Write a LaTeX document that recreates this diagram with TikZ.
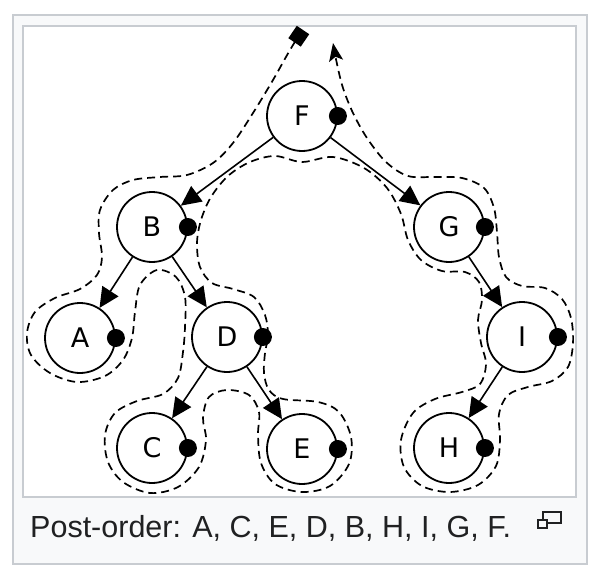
\documentclass[tikz,border=0pt]{standalone}
\usepackage{fontspec}
\usepackage{tikz}
\usetikzlibrary{arrows.meta}
\setmainfont{Liberation Sans}
\newfontfamily\nodefont{DejaVu Sans}
\definecolor{frameline}{HTML}{C8CCD1}
\definecolor{framefill}{HTML}{F8F9FA}
\definecolor{captext}{HTML}{202122}

\begin{document}
\begin{tikzpicture}[x=1pt, y=-1pt,
    vertex/.style={draw=black, circle, line width=1.8pt, minimum size=70pt, inner sep=0pt,
      font=\nodefont\fontsize{27}{30}\selectfont},
    visit/.style={fill=black},
    tour/.style={line width=1.7pt, dash pattern=on 8pt off 5pt,
      {Square[length=15pt,width=15pt]}-{Stealth[length=18pt,width=14pt,inset=4pt]}},
    >={Triangle[length=20pt,width=19pt]}]
  \useasboundingbox (0,0) rectangle (600,578);
  % thumbnail frame
  \draw[frameline, fill=framefill, line width=2pt] (13,15) rectangle (587,564);
  \draw[frameline, fill=white, line width=2pt] (23,26) rectangle (576,497);

    \node[vertex] (F) at (302,116) {F};
    \node[vertex] (B) at (152,227) {B};
    \node[vertex] (G) at (449,227) {G};
    \node[vertex] (A) at (80,338) {A};
    \node[vertex] (D) at (227,337) {D};
    \node[vertex] (I) at (522,337) {I};
    \node[vertex] (C) at (152,448) {C};
    \node[vertex] (E) at (302,449) {E};
    \node[vertex] (H) at (449,448) {H};
    \path [->, line width=1.6pt] (F) edge (B);
    \path [->, line width=1.6pt] (F) edge (G);
    \path [->, line width=1.6pt] (B) edge (A);
    \path [->, line width=1.6pt] (B) edge (D);
    \path [->, line width=1.6pt] (D) edge (C);
    \path [->, line width=1.6pt] (D) edge (E);
    \path [->, line width=1.6pt] (G) edge (I);
    \path [->, line width=1.6pt] (I) edge (H);
    \foreach \n in {F,B,G,A,D,I,C,E,H}
      \fill[visit] (\n.east) circle (9pt);

  % traversal contour
  \draw[tour] plot[smooth, tension=0.55] coordinates {
    (303,30) (290,50) (273,80) (253,113) (233,143) (213,163) (187,175)
    (160,177) (133,180) (113,190) (100,210) (99,233) (102,257) (97,275)
    (80,289) (55,298) (35,312) (27,333) (31,355) (50,373) (77,382)
    (105,376) (123,360) (132,338) (135,312) (140,285) (157,270) (176,277)
    (185,297) (185,327) (183,352) (178,378) (163,394) (137,401) (115,413)
    (105,435) (108,462) (123,482) (150,493) (178,487) (199,467) (206,440)
    (203,418) (209,397) (227,390) (249,395) (259,412) (258,435) (261,463)
    (275,484) (302,492) (330,486) (349,464) (351,437) (339,412) (318,402)
    (283,399) (269,390) (264,373) (265,353) (268,335) (265,315) (254,297)
    (233,289) (212,283) (200,267) (197,243) (201,220) (211,197) (228,176)
    (250,162) (275,156) (302,162) (333,157) (364,168) (387,188) (401,214)
    (408,240) (421,260) (442,271) (465,272) (479,282) (482,300) (478,320)
    (481,343) (486,364) (480,384) (462,392) (435,399) (413,413) (401,440)
    (404,467) (422,486) (450,492) (478,485) (496,466) (500,440) (499,414)
    (508,395) (528,387) (552,381) (568,367) (573,343) (571,318) (562,299)
    (545,288) (522,286) (506,277) (499,257) (497,232) (494,208) (484,188)
    (462,178) (435,177) (408,176) (386,162) (367,138) (353,113) (343,88)
    (337,64) (333,43)};

  % caption
  \node[anchor=base west, inner sep=0pt, text=captext, font=\fontsize{30.5}{36}\selectfont]
    (cap) at (30,537) {Post-order: A, C, E, D, B, H, I, G, F.};
  \draw[captext, line width=2pt] (543,512) rectangle (561,523);
  \draw[captext, fill=framefill, line width=2pt] (538,520) rectangle (547,528);
\end{tikzpicture}
\end{document}
